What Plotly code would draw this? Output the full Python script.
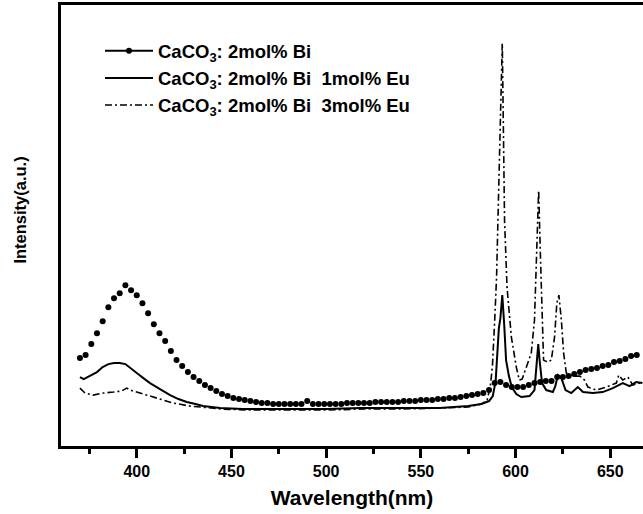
import plotly.graph_objects as go

# ---- data (intensity in arbitrary units) ----
bi_wl = [370, 373, 376, 379, 382, 385, 388, 391, 394, 397, 400, 403, 406, 409, 412, 415, 418, 421,
         424, 427, 430, 433, 436, 439, 442, 445, 448, 451, 454, 457, 460, 463, 466, 469, 472, 475,
         478, 481, 484, 487, 490, 493, 496, 499, 502, 505, 508, 511, 514, 517, 520, 523, 526, 529,
         532, 535, 538, 541, 544, 547, 550, 553, 556, 559, 562, 565, 568, 571, 574, 577, 580, 583,
         586, 589, 592, 595, 598, 601, 604, 607, 610, 613, 616, 619, 622, 625, 628, 631, 634, 637,
         640, 643, 646, 649, 652, 655, 658, 661, 664]
bi_int = [88, 91, 102, 113, 125, 139, 148, 153, 161, 156, 151, 143, 133, 122, 113, 105, 95, 86,
          80, 74, 69, 65, 61, 58, 55, 52, 50, 48, 47, 46, 45, 44, 43, 43, 42, 42,
          42, 42, 42, 42, 45, 42, 42, 42, 42, 42, 42, 43, 43, 43, 43, 43, 44, 44,
          44, 44, 44, 45, 45, 45, 46, 46, 46, 47, 47, 48, 48, 49, 50, 51, 52, 53,
          56, 63, 64, 61, 59, 59, 59, 61, 63, 64, 65, 65, 69, 69, 70, 72, 74, 76,
          77, 78, 80, 81, 84, 85, 87, 90, 91]

eu1_wl = [370, 372, 375, 379, 382, 385, 388, 391, 394, 396.5, 400, 403.5, 407, 410.5, 414, 417.6,
          422, 426.4, 431, 435, 444, 456, 474, 490, 500, 518, 540, 560, 575, 582, 586, 588,
          589.5, 590.5, 591.2, 592, 593, 594, 595, 596.5, 598, 600.4, 603, 607.4, 610, 611.3,
          612, 612.7, 614, 616.2, 619.7, 621, 622.4, 624.2, 626.4, 629.4, 632.9, 635.6, 640.8,
          646, 651.4, 656.6, 660.2, 663.7, 667]
eu1_int = [69, 67, 70, 74, 79, 82, 83, 83, 82, 78, 73, 68, 63, 59, 55, 51,
           47, 44, 42, 40, 38, 37, 37, 37, 37, 38, 38, 38, 40, 42, 45, 50,
           65, 95, 118, 128, 151, 122, 86, 70, 59, 52, 49, 50, 56, 86,
           102, 86, 63, 56, 54, 60, 71, 68, 56, 53, 59, 54, 53,
           54, 58, 63, 60, 64, 63]

eu3_wl = [370, 372.7, 377, 382.4, 387.7, 392, 394.7, 396.5, 401.7, 410.5, 419.3, 428, 435, 445,
          460, 480, 500, 520, 540, 560, 575, 582, 585, 586.7, 587.8, 589, 590, 590.7, 591.8,
          593, 593.5, 594.2, 595.5, 597.8, 600.4, 602, 603.5, 605.7, 608.3, 610, 611, 612.2,
          613.1, 614.1, 614.8, 617, 618.9, 620.6, 621.8, 622.9, 624.2, 625.4, 626.8, 630, 634,
          636.4, 638.2, 642.6, 647.9, 653.2, 654.5, 656.6, 659.3, 661.9, 665.4, 667]
eu3_int = [58, 53, 51, 53, 54, 55, 58, 56, 53, 48, 43, 40, 39, 37,
           36, 36, 36, 37, 37, 38, 39, 42, 46, 60, 80, 126, 170, 226, 300,
           403, 330, 226, 159, 109, 79, 66, 67, 79, 93, 126, 176, 256,
           193, 126, 86, 84, 86, 109, 143, 151, 126, 93, 73, 70, 70,
           66, 59, 56, 59, 63, 71, 66, 69, 61, 63, 62]

names = ["CaCO<sub>3</sub>: 2mol% Bi",
         "CaCO<sub>3</sub>: 2mol% Bi&nbsp; 1mol% Eu",
         "CaCO<sub>3</sub>: 2mol% Bi&nbsp; 3mol% Eu"]

x_ticks = [400, 450, 500, 550, 600, 650]

fig = go.Figure()

# Bi: dots on the curve, line+dot in legend
fig.add_trace(go.Scatter(x=bi_wl, y=bi_int, mode="markers",
                         marker=dict(color="black", size=6), showlegend=False))
fig.add_trace(go.Scatter(x=[None], y=[None], mode="lines+markers", name=names[0],
                         line=dict(color="black", width=2),
                         marker=dict(color="black", size=6)))
fig.add_trace(go.Scatter(x=eu1_wl, y=eu1_int, mode="lines", name=names[1],
                         line=dict(color="black", width=2)))
fig.add_trace(go.Scatter(x=eu3_wl, y=eu3_int, mode="lines", name=names[2],
                         line=dict(color="black", width=1.6, dash="7px,3px,2px,3px")))

fig.update_layout(
    width=643, height=514,
    margin=dict(l=61, r=0, t=5, b=68, autoexpand=False),
    paper_bgcolor="white", plot_bgcolor="white",
    font=dict(family="Liberation Sans, Arial, sans-serif", color="black", size=16, weight="bold"),
    showlegend=True,
    legend=dict(x=0.067, y=0.938, xanchor="left", yanchor="top",
                bgcolor="rgba(0,0,0,0)", borderwidth=0,
                font=dict(size=18.5, weight="bold"), itemwidth=48, tracegroupgap=0),
    xaxis=dict(range=[360, 667.3], showgrid=False, zeroline=False, automargin=False,
               showline=True, linecolor="black", linewidth=3, mirror=True,
               ticks="outside", ticklen=9, tickwidth=2.5, tickcolor="black",
               tickvals=x_ticks, ticktext=[str(v) for v in x_ticks],
               tickfont=dict(size=16, weight="bold"),
               minor=dict(ticks="outside", ticklen=5, tickwidth=2.5, tickcolor="black", dtick=25,
                          tick0=375, showgrid=False),
               title=dict(text="Wavelength(nm)", font=dict(size=21, weight="bold"), standoff=12)),
    yaxis=dict(range=[0, 441.5], showgrid=False, zeroline=False, showticklabels=False,
               automargin=False,
               showline=True, linecolor="black", linewidth=3, ticks=""),
)

fig.add_annotation(text="Intensity(a.u.)", textangle=-90, xref="paper", yref="paper",
                   x=-0.0695, y=0.535, xanchor="center", yanchor="middle", showarrow=False,
                   font=dict(size=16.5, weight="bold"))

fig.write_html("out.html", config={"displayModeBar": False},
               post_script="document.body.style.margin='0px';")
